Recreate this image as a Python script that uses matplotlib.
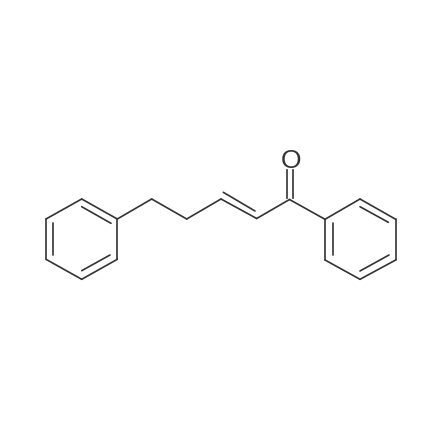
import matplotlib
matplotlib.use('Agg')
import matplotlib.pyplot as plt

# skeleton atoms, pixel positions
atom_x = [81.7, 117.3, 117.3, 81.7, 46, 46, 151.7, 186.7, 221, 256.7, 289.5, 325, 360, 395.7, 395.7, 360, 325]
atom_y = [199, 219, 259.3, 279.3, 259.3, 219, 199, 219, 199, 218.5, 199.5, 219.3, 199, 219.3, 260, 279.3, 260]

bonds = [(0, 1), (1, 2), (2, 3), (3, 4), (4, 5), (5, 0),
         (1, 6), (6, 7), (7, 8), (8, 9), (9, 10), (10, 11),
         (11, 12), (12, 13), (13, 14), (14, 15), (15, 16), (16, 11)]

# inner lines of the double bonds: x1, y1, x2, y2
inner_x1 = [53.3, 81.7, 81.7, 223.3, 332.7, 360, 360]
inner_y1 = [223.3, 206.7, 270.7, 192.3, 223.3, 206.7, 271]
inner_x2 = [53.3, 111, 110, 255, 332.7, 388.3, 389]
inner_y2 = [255, 223.3, 255, 211, 255, 222.3, 255]

# C=O
co_x = [286.7, 293.3]
co_y1 = [198, 198]
co_y2 = [170, 170]
oxygen_x = 290.5
oxygen_y = 159

col = '#333333'
lw = 1.2

fig = plt.figure(figsize=(4.48, 4.48), dpi=100)
ax = fig.add_axes([0, 0, 1, 1])
ax.set_xlim(0, 448)
ax.set_ylim(448, 0)
ax.axis('off')

for a, b in bonds:
    ax.plot([atom_x[a], atom_x[b]], [atom_y[a], atom_y[b]], color=col, lw=lw, solid_capstyle='round')

for i in range(len(inner_x1)):
    ax.plot([inner_x1[i], inner_x2[i]], [inner_y1[i], inner_y2[i]], color=col, lw=lw, solid_capstyle='round')

for i in range(len(co_x)):
    ax.plot([co_x[i], co_x[i]], [co_y1[i], co_y2[i]], color=col, lw=lw)

ax.text(oxygen_x, oxygen_y, 'O', family='Liberation Sans', fontsize=19, color=col, ha='center', va='center_baseline')

fig.savefig('out.png', dpi=100, facecolor='white')
